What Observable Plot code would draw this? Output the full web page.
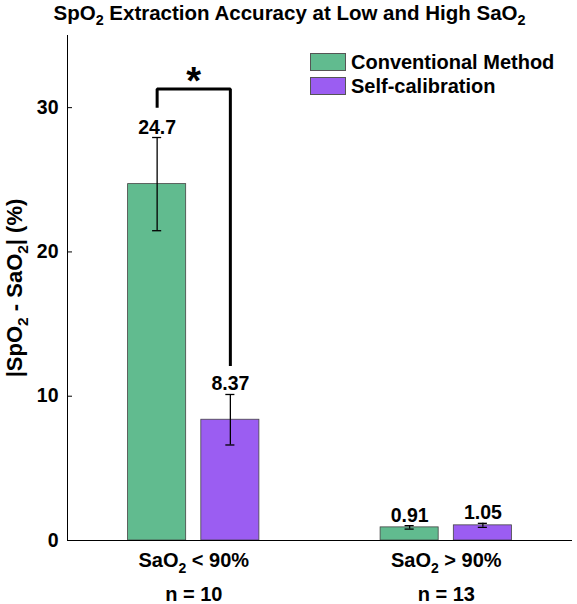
<!DOCTYPE html>
<html>
<head>
<meta charset="utf-8">
<script src="https://cdn.jsdelivr.net/npm/d3@7"></script>
<script src="https://cdn.jsdelivr.net/npm/@observablehq/plot@0.6"></script>
<style>
  html, body { margin: 0; padding: 0; background: #fff; }
  #wrap { position: relative; width: 577px; height: 604px; font-family: "Liberation Sans", Arial, sans-serif; }
  #title { height: 30px; text-align: center; font-weight: bold; font-size: 20.5px; line-height: 25px; white-space: nowrap; padding-left: 2px; }
  #title sub { font-size: 0.7em; position: relative; top: 0.35em; vertical-align: baseline; line-height: 0; }
  #legend { position: absolute; left: 310px; top: 50px; font-weight: bold; font-size: 20px; }
  .item { display: flex; align-items: center; height: 24px; }
  .sw { width: 34px; height: 16px; border: 1px solid #555; margin-right: 5px; }
</style>
</head>
<body>
<div id="wrap">
  <div id="title">SpO<sub>2</sub> Extraction Accuracy at Low and High SaO<sub>2</sub></div>
  <div id="chart"></div>
  <div id="legend"></div>
</div>
<script>
// ---- data ----
const groups = ["SaO₂ < 90%", "SaO₂ > 90%"];
const sampleSizes = ["n = 10", "n = 13"];
const methods = ["Conventional Method", "Self-calibration"];
const conventionalMean = [24.7, 0.91];
const selfCalMean = [8.37, 1.05];
const conventionalErr = [3.23, 0.12];
const selfCalErr = [1.75, 0.14];
const valueText = ["24.7", "0.91", "8.37", "1.05"];
const yTicks = [0, 10, 20, 30];
const yLabel = "|SpO₂ - SaO₂| (%)";
const sigBracket = [30.0, 31.3, 12.1]; // left leg end, bracket height, right leg end
const sigLabel = "*";
const colors = ["#61BB8F", "#9B5DF2"];

// ---- layout constants ----
const barOffset = 0.145, barHalf = 0.115, capHalf = 0.018;

const means = [conventionalMean, selfCalMean];
const errs = [conventionalErr, selfCalErr];
const rows = [];
methods.forEach((m, mi) => groups.forEach((g, gi) => {
  rows.push({
    group: g, method: m, value: means[mi][gi], err: errs[mi][gi],
    label: valueText[mi * 2 + gi],
    xc: gi + 0.5 + (mi === 0 ? -barOffset : barOffset)
  });
}));
const caps = rows.flatMap(r => [r.value - r.err, r.value + r.err].map(y => ({...r, y})));
const xLeft = rows.find(r => r.group === groups[0] && r.method === methods[0]).xc;
const xRight = rows.find(r => r.group === groups[0] && r.method === methods[1]).xc;
const bracket = [
  {x: xLeft, y: sigBracket[0]},
  {x: xLeft, y: sigBracket[1]},
  {x: xRight, y: sigBracket[1]},
  {x: xRight, y: sigBracket[2]}
];

const font = "Liberation Sans, Arial, sans-serif";

const plot = Plot.plot({
  width: 577,
  height: 574,
  marginLeft: 67,
  marginRight: 5,
  marginTop: 5,
  marginBottom: 64,
  style: {fontFamily: font, fontWeight: "bold", fontSize: "19px", color: "#000", background: "#fff", overflow: "visible"},
  x: {type: "linear", domain: [0, 2], axis: null},
  y: {domain: [0, 35], axis: null},
  color: {domain: methods, range: colors},
  marks: [
    Plot.rect(rows, {x1: d => d.xc - barHalf, x2: d => d.xc + barHalf, y1: 0, y2: "value",
      fill: "method", stroke: "#444", strokeWidth: 0.8}),
    Plot.ruleX(rows, {x: "xc", y1: d => d.value - d.err, y2: d => d.value + d.err, stroke: "#000", strokeWidth: 1.3}),
    Plot.ruleY(caps, {y: "y", x1: d => d.xc - capHalf, x2: d => d.xc + capHalf, stroke: "#000", strokeWidth: 1.3}),
    Plot.text(rows, {x: "xc", y: d => d.value + d.err, text: "label", lineAnchor: "bottom", dy: -4,
      fontSize: 19.5, fontWeight: "bold", fill: "#000"}),
    Plot.line(bracket, {x: "x", y: "y", stroke: "#000", strokeWidth: 3, strokeLinejoin: "miter", strokeLinecap: "butt"}),
    Plot.text([sigLabel], {x: (xLeft + xRight) / 2, y: sigBracket[1], text: d => d, lineAnchor: "bottom",
      dy: 5, fontSize: 38, fontWeight: "bold", fill: "#000"}),
    Plot.ruleX([0], {y1: 0, y2: 35, stroke: "#000", strokeWidth: 1}),
    Plot.ruleY([0], {stroke: "#000", strokeWidth: 1}),
    Plot.axisY({ticks: yTicks, tickSize: -5, tickPadding: 14, label: null, fontSize: 19.5, fontWeight: "bold"}),
    Plot.axisY({ticks: [], label: yLabel, labelAnchor: "center", labelArrow: "none", labelOffset: 61,
      fontSize: 22, fontWeight: "bold"}),
    Plot.axisX({ticks: [0.5, 1.5], tickFormat: d => groups[Math.floor(d)], tickSize: 0, tickPadding: 12,
      label: null, fontSize: 20, fontWeight: "bold"}),
    Plot.axisX({ticks: [0.5, 1.5], tickFormat: d => sampleSizes[Math.floor(d)], tickSize: 0, tickPadding: 46,
      label: null, fontSize: 20, fontWeight: "bold"})
  ]
});

// subscript rendering for "₂"
function subscriptify(svg) {
  svg.querySelectorAll("text").forEach(t => {
    if (t.querySelector("tspan")) return;
    const s = t.textContent;
    if (!s.includes("₂")) return;
    const parts = s.split("₂");
    t.textContent = "";
    const ns = "http://www.w3.org/2000/svg";
    parts.forEach((p, i) => {
      if (i > 0) {
        const sub = document.createElementNS(ns, "tspan");
        sub.setAttribute("dy", "6");
        sub.setAttribute("font-size", "70%");
        sub.textContent = "2";
        t.appendChild(sub);
        const rest = document.createElementNS(ns, "tspan");
        rest.setAttribute("dy", "-6");
        rest.textContent = p;
        t.appendChild(rest);
      } else {
        t.appendChild(document.createTextNode(p));
      }
    });
  });
}
subscriptify(plot);
document.getElementById("chart").appendChild(plot);

// legend
const legend = document.getElementById("legend");
methods.forEach((m, i) => {
  const item = document.createElement("div");
  item.className = "item";
  const sw = document.createElement("div");
  sw.className = "sw";
  sw.style.background = colors[i];
  const lab = document.createElement("span");
  lab.textContent = m;
  item.appendChild(sw);
  item.appendChild(lab);
  legend.appendChild(item);
});
</script>
</body>
</html>
